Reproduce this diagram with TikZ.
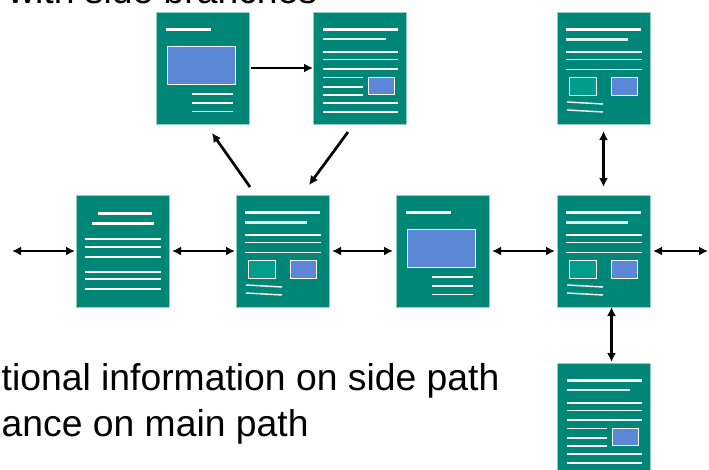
\documentclass[tikz,border=0pt]{standalone}
\usepackage{fontspec}
\setmainfont{Liberation Sans}
\usetikzlibrary{arrows.meta,calc}

\definecolor{pageteal}{RGB}{0,134,118}
\definecolor{lightteal}{RGB}{0,158,138}
\definecolor{picblue}{RGB}{92,134,214}
\definecolor{edgeteal}{RGB}{150,205,195}
\definecolor{softwhite}{RGB}{222,238,235}

\tikzset{
  pagebox/.style={draw=edgeteal, line width=0.6pt, fill=pageteal,
    minimum width=93pt, minimum height=112pt, inner sep=0pt, outer sep=0pt,
    anchor=north west},
  headline/.style={draw=white, line width=3pt},
  subline/.style={draw=softwhite, line width=2.6pt},
  textline/.style={draw=white, line width=1.4pt},
  bluepic/.style={fill=picblue, draw=white, line width=0.8pt},
  tealpic/.style={fill=lightteal, draw=white, line width=0.8pt},
  twoway/.style={line width=2.7pt, {Latex[length=9pt,width=9pt]}-{Latex[length=9pt,width=9pt]}},
  oneway/.style={line width=2.7pt, -{Latex[length=9pt,width=9pt]}},
  caption/.style={font=\fontsize{37.3}{44}\selectfont, anchor=base west, inner sep=0pt},
  % page with a large picture and a few lines
  imgpage/.pic={
    \node[pagebox] (-box) at (0,0) {};
    \draw[headline] (10,17.5) -- (55,17.5);
    \draw[bluepic] (11,34) rectangle (79,72);
    \foreach \y in {82,91,99.5} \draw[textline] (36,\y) -- (77,\y);
  },
  % page with text and one small picture
  txtimgpage/.pic={
    \node[pagebox] (-box) at (0,0) {};
    \draw[headline] (10,17.5) -- (85,17.5);
    \draw[subline] (10,27) -- (73,27);
    \foreach \y in {40,47.5,57} \draw[textline] (10,\y) -- (85,\y);
    \foreach \y in {65.5,75,83} \draw[textline] (10,\y) -- (50,\y);
    \draw[bluepic] (55,65) rectangle (81,82);
    \foreach \y in {91,100} \draw[textline] (10,\y) -- (85,\y);
  },
  % page with text and two small pictures
  twoimgpage/.pic={
    \node[pagebox] (-box) at (0,0) {};
    \draw[headline] (9,17.5) -- (84,17.5);
    \draw[subline] (9,27.5) -- (71,27.5);
    \foreach \y in {40,47.5,57.5} \draw[textline] (9,\y) -- (85,\y);
    \draw[tealpic] (12,65) rectangle (39,83);
    \draw[bluepic] (54,65) rectangle (80,83);
    \draw[textline] (10,90) -- (46,92);
    \draw[textline] (10,98) -- (46,100);
  },
  % page of text only
  textpage/.pic={
    \node[pagebox] (-box) at (0,0) {};
    \draw[headline] (22,18) -- (76,18);
    \draw[headline] (16,28) -- (78,28);
    \foreach \y in {44,52,62,77,84,94} \draw[textline] (9,\y) -- (85,\y);
  },
}

\begin{document}
\begin{tikzpicture}[x=1pt,y=-1pt]
  \useasboundingbox (0,0) rectangle (709,469);
  \clip (0,0) rectangle (709,469);

  % heading, mostly above the visible area
  \node[caption] (heading) at (8,3) {with side branches};

  % side branch (top row)
  \pic (pA) at (156,12) {imgpage};
  \pic (pB) at (313,12) {txtimgpage};
  \pic (pC) at (557,12) {twoimgpage};

  % main path (middle row)
  \pic (pD) at (76,195) {textpage};
  \pic (pE) at (236,195) {twoimgpage};
  \pic (pF) at (396,195) {imgpage};
  \pic (pG) at (557,195) {twoimgpage};

  % side branch below
  \pic (pH) at (557,363) {txtimgpage};

  \coordinate (leftend) at (12,251);
  \coordinate (rightend) at (708,251);

  % main path links
  \draw[twoway, shorten >=1pt] (leftend) -- (pD-box.west);
  \draw[twoway, shorten <=3pt, shorten >=1pt] (pD-box.east) -- (pE-box.west);
  \draw[twoway, shorten <=3pt, shorten >=3pt] (pE-box.east) -- (pF-box.west);
  \draw[twoway, shorten <=3pt, shorten >=2pt] (pF-box.east) -- (pG-box.west);
  \draw[twoway, shorten <=3pt] (pG-box.east) -- (rightend);

  % side path links
  \draw[oneway, shorten <=2pt] (pA-box.east) -- (pB-box.west);
  \draw[oneway] ($(pE-box.north west)+(14,-8)$) -- ($(pA-box.south west)+(56,9)$);
  \draw[oneway] ($(pB-box.south west)+(35,8)$) -- ($(pE-box.north west)+(73,-10)$);
  \draw[twoway, shorten <=7pt, shorten >=8pt] (pC-box.south) -- (pG-box.north);
  \draw[twoway, shorten >=1pt] ($(pG-box.south)+(8,0)$) -- ($(pH-box.north)+(8,0)$);

  % captions
  \node[caption] (sidetext) at (1.5,390) {tional information on side path};
  \node[caption] (maintext) at (1.5,436) {ance on main path};
\end{tikzpicture}
\end{document}
